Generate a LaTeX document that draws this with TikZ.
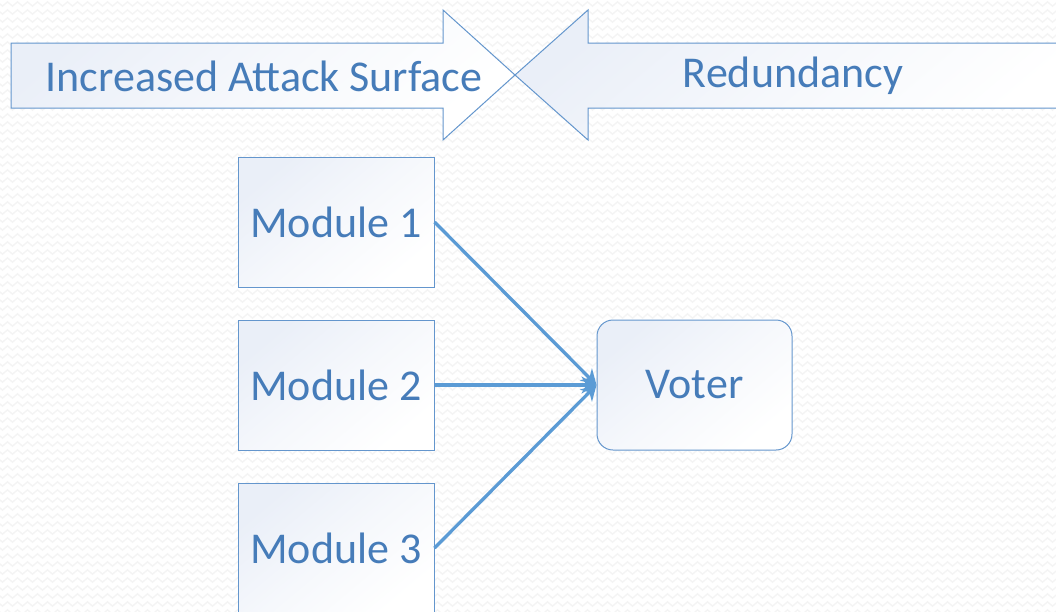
\documentclass[tikz,border=0pt]{standalone}
\usepackage{fontspec}
\setmainfont{Carlito}
\usetikzlibrary{arrows.meta,decorations.pathmorphing}

\definecolor{inktext}{RGB}{70,124,185}
\definecolor{edge}{RGB}{100,150,205}
\definecolor{conn}{RGB}{91,155,213}
\definecolor{tint}{RGB}{234,239,248}
\definecolor{texture}{RGB}{244,244,244}

\tikzset{
  softfill/.style={top color=tint, bottom color=white, middle color=white!55!tint, shading angle=40},
  outline/.style={draw=edge, line width=1pt},
  modbox/.style={outline, softfill, minimum width=196pt, minimum height=130pt,
                 inner sep=0pt, text=inktext, font=\fontsize{44}{50}\selectfont},
  votebox/.style={modbox, rounded corners=16pt, minimum width=195pt},
  label/.style={text=inktext, font=\fontsize{44}{50}\selectfont, inner sep=0pt},
  link/.style={draw=conn, line width=3.3pt, -{Stealth[length=15pt,width=17pt]}},
  bgline/.style={draw=texture, line width=1.3pt, decorate,
                 decoration={zigzag, segment length=10pt, amplitude=2.2pt}},
}

\begin{document}
\begin{tikzpicture}[x=1pt, y=-1pt]
  \useasboundingbox (0,0) rectangle (1056,611);
  \clip (0,0) rectangle (1056,611);

  % woven background texture
  \fill[white] (0,0) rectangle (1056,611);
  \foreach \r in {0,...,76}
    \draw[bgline] (-5,\r*8+4) -- (1065,\r*8+4);

  % opposing block arrows
  \path[outline, softfill]
    (11,43) -- (443,43) -- (443,10) -- (515,75) -- (443,140) -- (443,108) -- (11,108) -- cycle;
  \path[outline, softfill]
    (1070,43) -- (588,43) -- (588,10) -- (515,75) -- (588,140) -- (588,108) -- (1070,108) -- cycle;
  \node[label] (surface) at (264,76) {Increased Attack Surface};
  \node[label] (redund) at (793,76) {Redundancy};

  % modules and voter
  \node[modbox] (m1) at (336,222) {Module 1};
  \node[modbox] (m2) at (336,385) {Module 2};
  \node[modbox] (m3) at (336,548) {Module 3};
  \node[votebox] (voter) at (694.5,385) {Voter};

  \draw[link] (m1.east) -- (voter.west);
  \draw[link] (m3.east) -- (voter.west);
  \draw[link] (m2.east) -- (voter.west);
\end{tikzpicture}
\end{document}
